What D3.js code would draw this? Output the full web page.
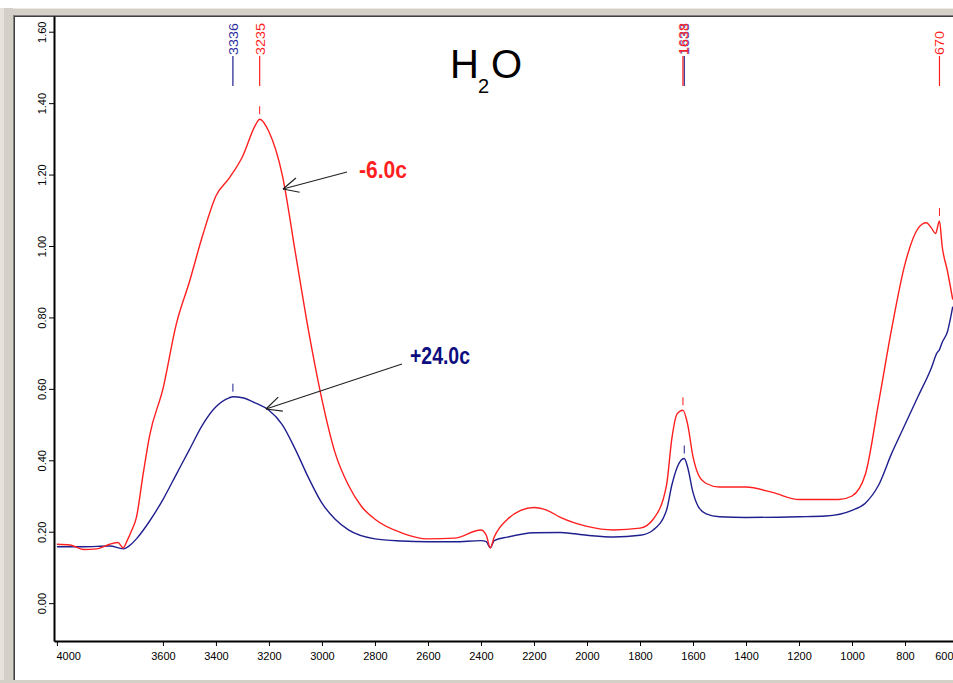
<!DOCTYPE html>
<html>
<head>
<meta charset="utf-8">
<script src="https://cdn.jsdelivr.net/npm/d3@7"></script>
<style>
  html, body { margin: 0; padding: 0; background: #ffffff; }
  svg { display: block; }
  text { font-family: "Liberation Sans", Arial, sans-serif; }
</style>
</head>
<body>
<svg id="chart" width="953" height="683"></svg>
<script>
// IR absorbance spectra of water at two temperatures
const waveRed = [4000, 3950, 3900, 3850, 3800, 3770, 3750, 3735, 3720, 3700, 3675, 3650, 3600, 3550, 3500, 3450, 3400, 3350, 3300, 3250, 3235, 3200, 3150, 3100, 3050, 3000, 2950, 2900, 2850, 2800, 2700, 2600, 2500, 2400, 2380, 2365, 2350, 2300, 2250, 2200, 2150, 2100, 2000, 1900, 1800, 1750, 1700, 1680, 1660, 1638, 1620, 1600, 1580, 1550, 1500, 1400, 1300, 1200, 1100, 1050, 1000, 950, 900, 850, 800, 750, 720, 700, 685, 670, 660, 640, 620];
const absRed = [0.165, 0.163, 0.150, 0.152, 0.165, 0.170, 0.155, 0.175, 0.200, 0.240, 0.360, 0.470, 0.600, 0.780, 0.900, 1.030, 1.140, 1.190, 1.250, 1.340, 1.355, 1.320, 1.200, 0.980, 0.760, 0.570, 0.420, 0.330, 0.270, 0.235, 0.197, 0.180, 0.182, 0.205, 0.190, 0.155, 0.185, 0.235, 0.260, 0.268, 0.260, 0.240, 0.215, 0.205, 0.210, 0.235, 0.330, 0.460, 0.530, 0.540, 0.500, 0.410, 0.360, 0.335, 0.325, 0.325, 0.310, 0.290, 0.290, 0.290, 0.300, 0.360, 0.560, 0.770, 0.950, 1.050, 1.065, 1.050, 1.035, 1.070, 1.000, 0.930, 0.850];

const waveBlue = [4000, 3900, 3800, 3750, 3720, 3700, 3650, 3600, 3550, 3500, 3450, 3400, 3350, 3336, 3300, 3250, 3200, 3150, 3100, 3050, 3000, 2950, 2900, 2800, 2700, 2600, 2500, 2400, 2380, 2365, 2350, 2300, 2200, 2100, 2000, 1900, 1800, 1750, 1700, 1680, 1660, 1633, 1620, 1600, 1580, 1550, 1500, 1400, 1200, 1100, 1000, 950, 900, 850, 800, 750, 700, 680, 670, 660, 640, 620];
const absBlue = [0.158, 0.158, 0.160, 0.152, 0.165, 0.180, 0.230, 0.290, 0.360, 0.430, 0.500, 0.550, 0.575, 0.578, 0.575, 0.560, 0.540, 0.500, 0.430, 0.350, 0.280, 0.235, 0.205, 0.180, 0.174, 0.172, 0.172, 0.175, 0.172, 0.155, 0.175, 0.185, 0.197, 0.198, 0.190, 0.185, 0.190, 0.205, 0.260, 0.330, 0.380, 0.405, 0.380, 0.310, 0.270, 0.250, 0.242, 0.240, 0.242, 0.244, 0.260, 0.280, 0.330, 0.420, 0.500, 0.580, 0.660, 0.700, 0.710, 0.730, 0.760, 0.830];

const yTickValues = [0.0, 0.2, 0.4, 0.6, 0.8, 1.0, 1.2, 1.4, 1.6];
const xTickValues = [4000, 3600, 3400, 3200, 3000, 2800, 2600, 2400, 2200, 2000, 1800, 1600, 1400, 1200, 1000, 800, 600];

// picked peaks: wavenumber, series
const peakWave = [3336, 3235, 1633, 1638, 670];
const peakSeries = ["blue", "red", "blue", "red", "red"];

const curveNames = ["-6.0c", "+24.0c"];

const RED = "#ff1f1f";
const BLUE = "#1f1f8f";
const LABEL_BLUE = "#2d2da0";

const svg = d3.select("#chart");

// window frame
svg.append("rect").attr("x", 0).attr("y", 0).attr("width", 953).attr("height", 683).attr("fill", "#ffffff");
svg.append("rect").attr("x", 0).attr("y", 8).attr("width", 953).attr("height", 8).attr("fill", "#d4d0c8");
svg.append("rect").attr("x", 0).attr("y", 8).attr("width", 953).attr("height", 1).attr("fill", "#ece9e2");
svg.append("rect").attr("x", 0).attr("y", 8).attr("width", 13).attr("height", 675).attr("fill", "#d4d0c8");
svg.append("rect").attr("x", 0).attr("y", 8).attr("width", 4).attr("height", 675).attr("fill", "#e6e3dc");
svg.append("rect").attr("x", 13).attr("y", 15).attr("width", 940).attr("height", 1).attr("fill", "#808080");
svg.append("rect").attr("x", 13).attr("y", 16).attr("width", 940).attr("height", 1).attr("fill", "#404040");
svg.append("rect").attr("x", 13).attr("y", 15).attr("width", 1).attr("height", 668).attr("fill", "#808080");
svg.append("rect").attr("x", 14).attr("y", 16).attr("width", 1).attr("height", 667).attr("fill", "#404040");
svg.append("rect").attr("x", 0).attr("y", 680).attr("width", 953).attr("height", 3).attr("fill", "#d4d0c8");

const x = d3.scaleLinear().domain([4011, 619]).range([54, 953]);
const y = d3.scaleLinear().domain([-0.106, 1.644]).range([641, 16]);

// axes
const yAxis = d3.axisLeft(y).tickValues(yTickValues).tickFormat(d3.format(".2f")).tickSize(5).tickSizeOuter(0);
const gy = svg.append("g").attr("transform", "translate(54,0)").call(yAxis);
gy.select(".domain").attr("stroke", "#000").attr("stroke-width", 2);
gy.selectAll(".tick line").attr("stroke", "#000");
gy.selectAll(".tick text")
  .attr("x", null).attr("dy", null)
  .attr("font-size", 11).attr("fill", "#000")
  .attr("text-anchor", "middle")
  .attr("transform", "translate(-12,0) rotate(-90)")
  .attr("dy", "0.35em");

const xAxis = d3.axisBottom(x).tickValues(xTickValues).tickFormat(d3.format("d")).tickSize(5).tickSizeOuter(0);
const gx = svg.append("g").attr("transform", "translate(0,641)").call(xAxis);
gx.select(".domain").attr("stroke", "#000").attr("stroke-width", 2);
gx.selectAll(".tick line").attr("stroke", "#000");
gx.selectAll(".tick text").attr("font-size", 11).attr("fill", "#000").attr("y", 11);
// end labels are kept inside the plot frame
gx.selectAll(".tick").filter(d => d === 4000).select("text").attr("text-anchor", "start").attr("x", -1);
gx.selectAll(".tick").filter(d => d === 600).select("text").attr("text-anchor", "end").attr("transform", `translate(${953 - x(600)},0)`);

// spectra
const line = d3.line().x(d => x(d[0])).y(d => y(d[1])).curve(d3.curveMonotoneX);
svg.append("path").datum(d3.zip(waveBlue, absBlue))
  .attr("d", line).attr("fill", "none").attr("stroke", BLUE).attr("stroke-width", 1.4);
svg.append("path").datum(d3.zip(waveRed, absRed))
  .attr("d", line).attr("fill", "none").attr("stroke", RED).attr("stroke-width", 1.4);

// peak labels and markers
peakWave.forEach((w, i) => {
  const isRed = peakSeries[i] === "red";
  const col = isRed ? RED : BLUE;
  const waves = isRed ? waveRed : waveBlue;
  const vals = isRed ? absRed : absBlue;
  const v = vals[waves.indexOf(w)];
  const px = x(w);
  svg.append("line").attr("x1", px).attr("x2", px).attr("y1", 56).attr("y2", 86)
    .attr("stroke", col).attr("stroke-width", 1.2);
  const label = String(w);
  svg.append("text").attr("transform", `translate(${px},55) rotate(-90)`)
    .attr("dy", "0.36em").attr("font-size", 13.5).attr("fill", isRed ? RED : LABEL_BLUE)
    .attr("textLength", label.length * 8).attr("lengthAdjust", "spacingAndGlyphs")
    .text(label);
  svg.append("line").attr("x1", px).attr("x2", px).attr("y1", y(v) - 13).attr("y2", y(v) - 5)
    .attr("stroke", col).attr("stroke-width", 1);
});

// title H2O
svg.append("text").attr("x", 450).attr("y", 78).attr("font-size", 40).attr("fill", "#000").text("H");
svg.append("text").attr("x", 478).attr("y", 93).attr("font-size", 20).attr("fill", "#000").text("2");
svg.append("text").attr("x", 491).attr("y", 78).attr("font-size", 40).attr("fill", "#000").text("O");

// curve annotations with arrows
function arrow(x1, y1, x2, y2) {
  const a = Math.atan2(y1 - y2, x1 - x2);
  const len = 17, spread = 0.45;
  svg.append("line").attr("x1", x1).attr("y1", y1).attr("x2", x2).attr("y2", y2)
    .attr("stroke", "#222").attr("stroke-width", 1.2);
  [a - spread, a + spread].forEach(b => {
    svg.append("line").attr("x1", x2).attr("y1", y2)
      .attr("x2", x2 + len * Math.cos(b)).attr("y2", y2 + len * Math.sin(b))
      .attr("stroke", "#222").attr("stroke-width", 1.2);
  });
}
arrow(347, 172, 283, 189);
arrow(402, 364, 266, 409);

svg.append("text").attr("x", 359).attr("y", 178).attr("font-size", 23).attr("font-weight", "bold")
  .attr("fill", RED).attr("textLength", 48).attr("lengthAdjust", "spacingAndGlyphs").text(curveNames[0]);
svg.append("text").attr("x", 410).attr("y", 364).attr("font-size", 23).attr("font-weight", "bold")
  .attr("fill", "#0d0d80").attr("textLength", 60).attr("lengthAdjust", "spacingAndGlyphs").text(curveNames[1]);
</script>
</body>
</html>
